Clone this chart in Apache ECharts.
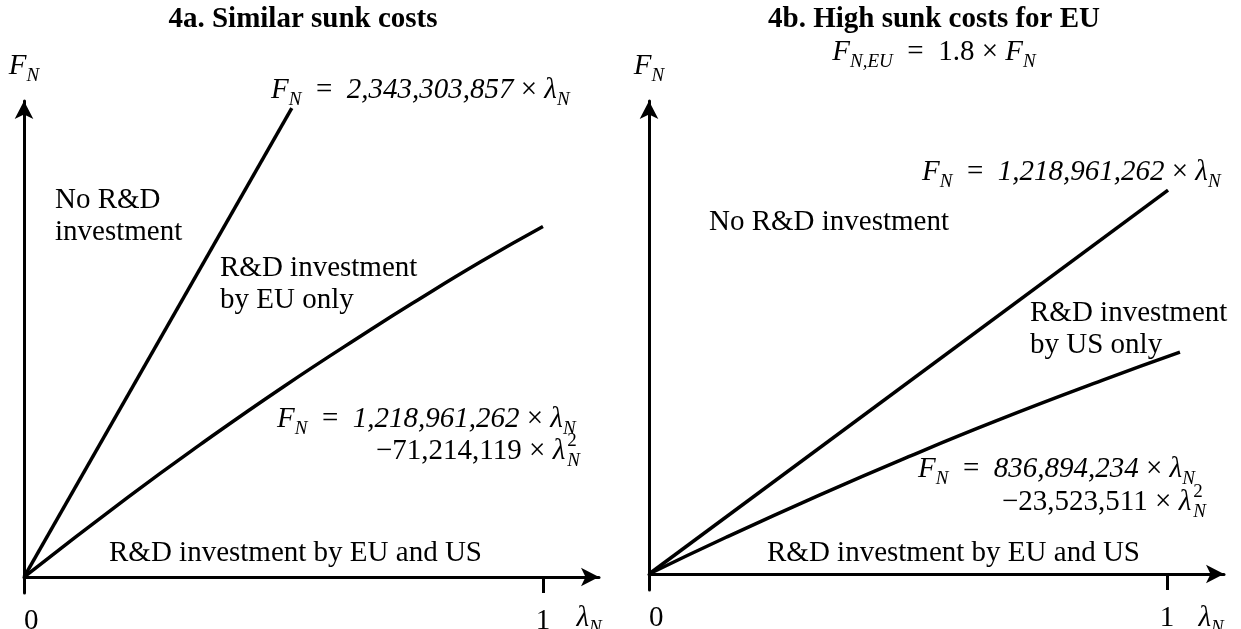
<!DOCTYPE html>
<html>
<head>
<meta charset="utf-8">
<script src="https://cdn.jsdelivr.net/npm/echarts@6/dist/echarts.min.js"></script>
<style>
html, body { margin: 0; background: #fff; }
#main { width: 1241px; height: 629px; }
</style>
</head>
<body>
<div id="main"></div>
<script>
// 4a. boundary lines (lambda_N on x, F_N in schematic units)
var lineA_lambda = [0, 0.516]
var lineA_F = [0, 98.3]
var curveA_lambda = [0, 0.2, 0.34, 0.5, 0.67, 0.75, 0.88, 1.0]
var curveA_F = [0, 16.7, 27.8, 39.9, 52.0, 57.5, 66.1, 73.5]
// 4b. high sunk costs for EU
var lineB_lambda = [0, 1.002]
var lineB_F = [0, 81.0]
var curveB_lambda = [0, 0.15, 0.33, 0.5, 0.67, 0.876, 1.025]
var curveB_F = [0, 7.8, 16.7, 24.7, 32.3, 40.9, 46.8]
// axis ticks / labels
var tickValues = [1]
var tickLabels = [0, 1]

var FONT = 'Liberation Serif'
var SIZE = 29

function pairs(xs, ys) {
  return xs.map(function (x, i) { return [x, ys[i]] })
}

// rich styles, usable both by echarts labels (color) and zrender text (fill)
var rich = {
  r: { fontFamily: FONT, fontSize: SIZE, lineHeight: 38, color: '#000', fill: '#000' },
  i: { fontFamily: FONT, fontSize: SIZE, fontStyle: 'italic', lineHeight: 38, color: '#000', fill: '#000' },
  s: { fontFamily: FONT, fontSize: 19, fontStyle: 'italic', lineHeight: 19, verticalAlign: 'bottom', color: '#000', fill: '#000' },
  p: { fontFamily: FONT, fontSize: 19, lineHeight: 18, verticalAlign: 'top', width: 0, padding: [0, 0, 0, 2], color: '#000', fill: '#000' }
}
var FN = '{i|F}{s|N}'
var LN = '{i|λ}{s|N}'
var L2N = '{i|λ}{p|2}{s|N}'

function txt(x, y, text, opt) {
  opt = opt || {}
  return {
    type: 'text', x: x, y: y, silent: true,
    style: {
      text: text,
      rich: rich,
      align: opt.align || 'left',
      verticalAlign: 'middle',
      fontFamily: FONT,
      fontSize: SIZE,
      fontWeight: opt.bold ? 'bold' : 'normal',
      lineHeight: opt.lineHeight || 32,
      fill: '#000'
    }
  }
}

function xAxisFor(gi, max) {
  return {
    type: 'value', gridIndex: gi, min: 0, max: max,
    splitLine: { show: false },
    axisLine: { onZero: true, symbol: ['none', 'arrow'], symbolSize: [14, 18], lineStyle: { color: '#000', width: 3 } },
    axisTick: { show: true, customValues: tickValues, length: 16, lineStyle: { color: '#000', width: 3 } },
    axisLabel: { customValues: tickLabels, alignMinLabel: 'left', margin: 28, verticalAlign: 'middle', color: '#000', fontFamily: FONT, fontSize: SIZE, lineHeight: 30 }
  }
}

function yAxisFor(gi, min, max) {
  return {
    type: 'value', gridIndex: gi, min: min, max: max,
    splitLine: { show: false },
    axisLine: { onZero: true, symbol: ['none', 'arrow'], symbolSize: [14, 18], lineStyle: { color: '#000', width: 3 } },
    axisTick: { show: false },
    axisLabel: { show: false },
    name: FN,
    nameLocation: 'end',
    nameGap: 16,
    nameTextStyle: { rich: rich }
  }
}

function boundary(name, gi, data) {
  return {
    name: name, type: 'line', xAxisIndex: gi, yAxisIndex: gi,
    data: data, smooth: true, showSymbol: false, symbol: 'none',
    lineStyle: { color: '#000', width: 3.5 }, silent: true
  }
}

var myChart = echarts.init(document.getElementById('main'))
var option = {
  animation: false,
  backgroundColor: '#fff',
  grid: [
    { left: 24, top: 101, width: 575, height: 492, outerBoundsMode: 'none', containLabel: false },
    { left: 649, top: 101, width: 575, height: 489, outerBoundsMode: 'none', containLabel: false }
  ],
  xAxis: [xAxisFor(0, 1.108), xAxisFor(1, 1.11)],
  yAxis: [yAxisFor(0, -3.35, 99.8), yAxisFor(1, -3.38, 99.8)],
  series: [
    boundary('4a line', 0, pairs(lineA_lambda, lineA_F)),
    boundary('4a curve', 0, pairs(curveA_lambda, curveA_F)),
    boundary('4b line', 1, pairs(lineB_lambda, lineB_F)),
    boundary('4b curve', 1, pairs(curveB_lambda, curveB_F))
  ],
  graphic: [
    // 4a
    txt(303, 20, '4a. Similar sunk costs', { align: 'center', bold: true }),
    txt(271, 90, FN + '{r|  =  }{i|2,343,303,857}{r| × }' + LN),
    txt(55, 216, 'No R&D\ninvestment'),
    txt(220, 284, 'R&D investment\nby EU only'),
    txt(277, 419, FN + '{r|  =  }{i|1,218,961,262}{r| × }' + LN),
    txt(376, 451, '{r|−71,214,119 × }' + L2N),
    txt(109, 553, 'R&D investment by EU and US'),
    txt(589, 618, LN, { align: 'center' }),
    // 4b
    txt(934, 20, '4b. High sunk costs for EU', { align: 'center', bold: true }),
    txt(934, 52, '{i|F}{s|N,EU}{r|  =  1.8 × }' + FN, { align: 'center' }),
    txt(922, 172, FN + '{r|  =  }{i|1,218,961,262}{r| × }' + LN),
    txt(709, 222, 'No R&D investment'),
    txt(1030, 329, 'R&D investment\nby US only'),
    txt(918, 469, FN + '{r|  =  }{i|836,894,234}{r| × }' + LN),
    txt(1002, 502, '{r|−23,523,511 × }' + L2N),
    txt(767, 553, 'R&D investment by EU and US'),
    txt(1211, 618, LN, { align: 'center' })
  ]
}
myChart.setOption(option)
</script>
</body>
</html>
